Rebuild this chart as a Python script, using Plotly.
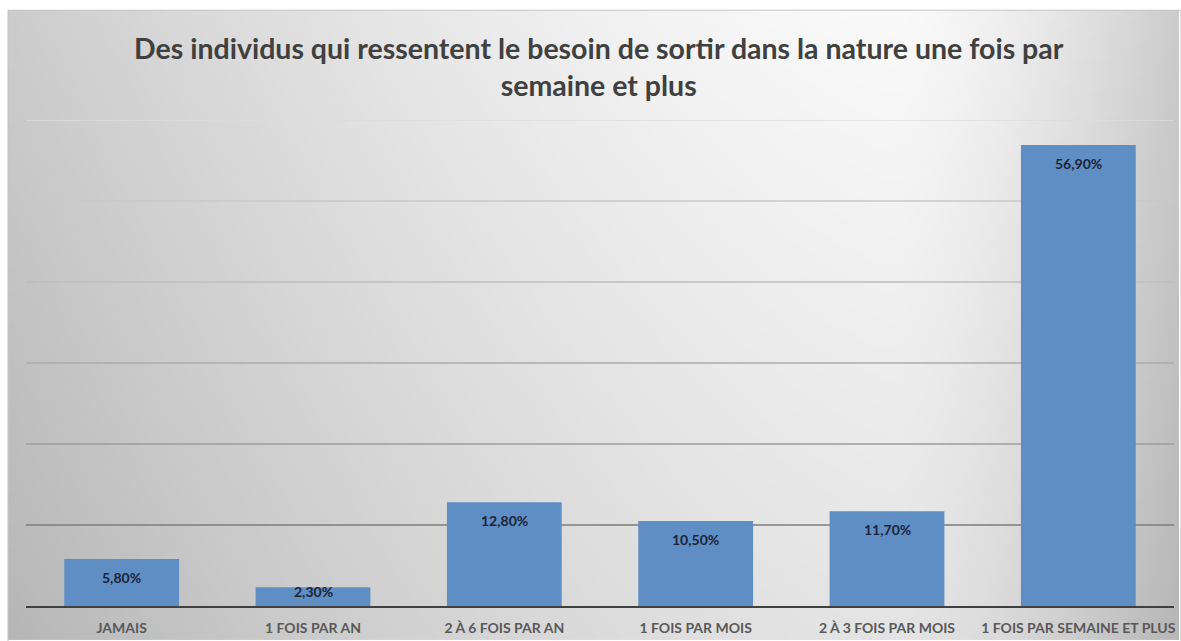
import base64
import struct
import zlib

import numpy as np
import plotly.graph_objects as go

# --- data -------------------------------------------------------------
categories = [
    "JAMAIS",
    "1 FOIS PAR AN",
    "2 À 6 FOIS PAR AN",
    "1 FOIS PAR MOIS",
    "2 À 3 FOIS PAR MOIS",
    "1 FOIS PAR SEMAINE ET PLUS",
]
values = [5.8, 2.3, 12.8, 10.5, 11.7, 56.9]
grid_values = [10, 20, 30, 40, 50, 60]
grid_colors = ["#7c7c7c", "#9c9c9c", "#ababab", "#bebebe", "#c8c8c8", "#dcdcdc"]

title_text = (
    "Des individus qui ressentent le besoin de sortir dans la nature une fois par"
    "<br>semaine et plus"
)

# --- layout geometry --------------------------------------------------
W, H = 1181, 641
ML, MR, MT, MB = 26, 5, 120, 34
PW, PH = W - ML - MR, H - MT - MB
Y_MAX = 60


def gradient_png(w, h):
    """Grey 'path' gradient: bright near the upper middle-right, darker at the edges."""
    xs = np.linspace(0, 1, w)
    ys = np.linspace(0, 1, h)
    X, Y = np.meshgrid(xs, ys)
    cx = 0.76
    dx = np.where(X < cx, (cx - X) / cx, (X - cx) / (1 - cx))
    b = 250 - 45 * dx ** 1.5 - 22 * Y
    img = np.clip(b, 0, 255).astype(np.uint8)
    raw = b"".join(b"\x00" + img[r].tobytes() for r in range(h))

    def chunk(tag, data):
        c = struct.pack(">I", len(data)) + tag + data
        return c + struct.pack(">I", zlib.crc32(tag + data) & 0xFFFFFFFF)

    png = b"\x89PNG\r\n\x1a\n"
    png += chunk(b"IHDR", struct.pack(">IIBBBBB", w, h, 8, 0, 0, 0, 0))
    png += chunk(b"IDAT", zlib.compress(raw, 9))
    png += chunk(b"IEND", b"")
    return "data:image/png;base64," + base64.b64encode(png).decode()


fig = go.Figure()

fig.add_trace(
    go.Bar(
        x=categories,
        y=values,
        width=0.6,
        marker=dict(color="#5f8ec5", line=dict(width=0)),
        hoverinfo="x+y",
    )
)

# value labels just inside the top of each bar
px_per_unit = PH / Y_MAX
for cat, v in zip(categories, values):
    bar_px = v * px_per_unit
    shift = -8 if bar_px > 30 else 6
    fig.add_annotation(
        x=cat,
        y=v,
        yanchor="top",
        yshift=shift,
        text=f"{v:.2f}".replace(".", ",") + "%",
        showarrow=False,
        font=dict(family="Lato", size=14, color="#1b2438", weight="bold"),
    )

# horizontal gridlines
for gv, gc in zip(grid_values, grid_colors):
    fig.add_shape(
        type="line",
        xref="paper",
        yref="y",
        x0=0,
        x1=1,
        y0=gv,
        y1=gv,
        line=dict(color=gc, width=1.5),
        layer="below",
    )

# chart-area background gradient
frame_left, frame_top = 8, 10
fig.add_layout_image(
    source=gradient_png(236, 126),
    xref="paper",
    yref="paper",
    x=(frame_left - ML) / PW,
    y=(H - MB - frame_top) / PH,
    sizex=(W - frame_left) / PW,
    sizey=(H - frame_top) / PH,
    xanchor="left",
    yanchor="top",
    sizing="stretch",
    layer="below",
)
fig.add_shape(
    type="rect",
    xref="paper",
    yref="paper",
    x0=(frame_left - ML) / PW,
    x1=(W - ML + 2) / PW,
    y0=-(MB + 2) / PH,
    y1=(H - MB - frame_top) / PH,
    line=dict(color="#c4c4c4", width=1),
    layer="below",
)

# two-line chart title
fig.add_annotation(
    text=title_text,
    xref="paper",
    yref="paper",
    x=(600 - ML) / PW,
    y=(H - MB - 66) / PH,
    xanchor="center",
    yanchor="middle",
    showarrow=False,
    font=dict(family="Lato", size=28.5, color="#404040", weight="bold"),
)

fig.update_layout(
    width=W,
    height=H,
    margin=dict(l=ML, r=MR, t=MT, b=MB),
    paper_bgcolor="white",
    plot_bgcolor="rgba(0,0,0,0)",
    showlegend=False,
    bargap=0.4,
    xaxis=dict(
        showline=True,
        linecolor="#404040",
        linewidth=2,
        showgrid=False,
        ticks="",
        tickfont=dict(family="Lato", size=14, color="#595959", weight="bold"),
        ticklabelstandoff=8,
        fixedrange=True,
    ),
    yaxis=dict(
        range=[0, Y_MAX],
        showgrid=False,
        zeroline=False,
        showticklabels=False,
        ticks="",
        fixedrange=True,
    ),
)

fig.write_html("out.html")
